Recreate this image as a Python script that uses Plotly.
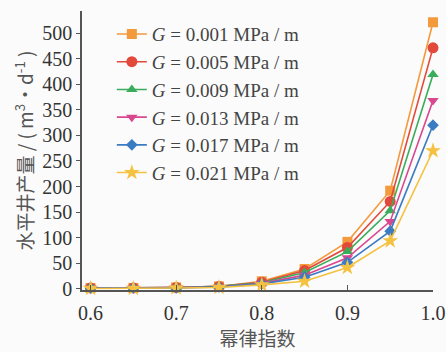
import plotly.graph_objects as go

x_vals = [0.6, 0.65, 0.7, 0.75, 0.8, 0.85, 0.9, 0.95, 1.0]
g_labels = ["0.001", "0.005", "0.009", "0.013", "0.017", "0.021"]
q_g001 = [2, 2, 3, 5, 15, 39, 92, 192, 521]
q_g005 = [2, 2, 3, 5, 13, 36, 81, 171, 471]
q_g009 = [2, 2, 3, 5, 12, 32, 73, 153, 419]
q_g013 = [2, 2, 3, 4, 11, 27, 61, 132, 368]
q_g017 = [2, 2, 2, 4, 10, 23, 52, 113, 320]
q_g021 = [1, 1, 2, 3, 8, 15, 42, 94, 270]
series = [q_g001, q_g005, q_g009, q_g013, q_g017, q_g021]
colors = ["#f39a3c", "#e2493b", "#3aad5c", "#d9478f", "#3b7bc2", "#f4c140"]
symbols = ["square", "circle", "triangle-up", "triangle-down", "diamond", "star"]
sizes = [10, 11, 10, 10, 9, 12]

fig = go.Figure()
for lab, ys, c, s, sz in zip(g_labels, series, colors, symbols, sizes):
    fig.add_trace(go.Scatter(
        x=x_vals, y=ys, mode="lines+markers",
        name=f"<i>G</i> = {lab} MPa / m",
        line=dict(color=c, width=1.6),
        marker=dict(symbol=s, size=sz, color=c),
        cliponaxis=False,
    ))

fig.update_layout(
    width=446, height=352,
    margin=dict(l=82, r=13, t=11, b=62),
    paper_bgcolor="#fbfbfb", plot_bgcolor="#fbfbfb",
    font=dict(family="Liberation Serif", size=20, color="#333333"),
    showlegend=True,
    legend=dict(x=0.085, y=0.985, xanchor="left", yanchor="top",
                bgcolor="rgba(0,0,0,0)", font=dict(size=19, color="#444444"),
                tracegroupgap=0, itemwidth=30),
)
fig.update_xaxes(
    range=[0.59, 1.0], tickvals=[0.6, 0.7, 0.8, 0.9, 1.0],
    ticktext=["0.6", "0.7", "0.8", "0.9", "1.0"], automargin=False,
    tickfont=dict(size=20), ticklabeloverflow="allow",
    showline=True, linecolor="#555555", linewidth=1.5,
    ticks="inside", ticklen=5, tickcolor="#555555", showgrid=False, zeroline=False,
    ticklabelstandoff=4,
    title=dict(text="幂律指数", font=dict(family="Noto Sans CJK SC", size=19, color="#555555"), standoff=9),
)
fig.update_yaxes(
    range=[-2, 543], tickvals=list(range(0, 501, 50)), automargin=False,
    tickfont=dict(size=20),
    showline=True, linecolor="#555555", linewidth=1.5,
    ticks="outside", ticklen=4, tickcolor="#555555", showgrid=False, zeroline=False,
    title=dict(text="水平井产量 / ( m<sup>3</sup>·d<sup>-1</sup> )",
               font=dict(family="Noto Sans CJK SC", size=19, color="#555555"), standoff=4),
)
fig.write_html("out.html")
